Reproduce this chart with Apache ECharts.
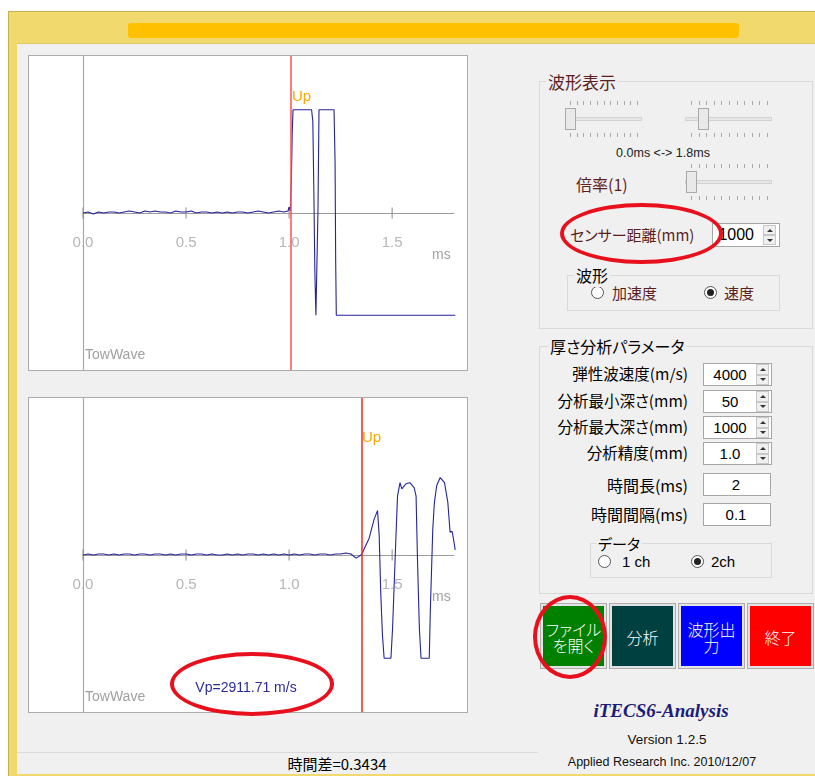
<!DOCTYPE html>
<html>
<head>
<meta charset="utf-8">
<script src="https://cdn.jsdelivr.net/npm/echarts@6/dist/echarts.min.js"></script>
<style>
  body { margin: 0; width: 815px; height: 776px; overflow: hidden; background: #fff; position: relative;
         font-family: 'Noto Sans CJK JP', sans-serif; font-feature-settings: 'palt'; }
  .wave { position: absolute; left: 28px; width: 438px; height: 314px; border: 1px solid #acacac; background: #fff; z-index: 2; }
  #ui div { box-sizing: border-box; }
</style>
</head>
<body>
<div id="ui"></div>
<div id="waveTop" class="wave" style="top:55px"></div>
<div id="waveBottom" class="wave" style="top:397px"></div>
<script>
// --- data ---
// 1ch 波形 (上)
const topTime = [0, 0.025, 0.05, 0.075, 0.1, 0.125, 0.15, 0.175, 0.2, 0.225, 0.25, 0.275, 0.3, 0.325, 0.35, 0.375, 0.4, 0.425, 0.45, 0.475,
  0.5, 0.525, 0.55, 0.575, 0.6, 0.625, 0.65, 0.675, 0.7, 0.725, 0.75, 0.775, 0.8, 0.825, 0.85, 0.875, 0.9, 0.925, 0.95, 0.975,
  0.995, 1.000, 1.006, 1.011, 1.015, 1.019, 1.109, 1.115, 1.120, 1.125, 1.130, 1.138, 1.140, 1.145, 1.218, 1.223, 1.226, 1.229, 1.806]
const topAmp = [0, 0.01, -0.01, 0.01, 0, 0.01, 0.01, 0, 0.01, 0.02, 0.01, 0, 0.02, 0.01, 0.02, 0.01, 0.01, 0, 0.02, 0.01,
  0.01, 0.02, 0, 0.01, 0.01, 0, 0.01, 0, 0.01, 0, 0.01, 0.01, 0, 0.01, 0.02, 0.01, 0, 0.01, 0.02, 0.01,
  0.02, 0.06, 0.02, 0.32, 0.77, 1.0, 1.0, 0.89, 0.22, -0.58, -0.99, -0.99, 0.02, 1.0, 1.0, 0.49, -0.48, -0.99, -0.99]
// 2ch 波形 (下)
const bottomTime = [0, 0.025, 0.05, 0.075, 0.1, 0.125, 0.15, 0.175, 0.2, 0.225, 0.25, 0.275, 0.3, 0.325, 0.35, 0.375, 0.4, 0.425, 0.45, 0.475,
  0.5, 0.525, 0.55, 0.575, 0.6, 0.625, 0.65, 0.675, 0.7, 0.725, 0.75, 0.775, 0.8, 0.825, 0.85, 0.875, 0.9, 0.925, 0.95, 0.975,
  1.0, 1.025, 1.05, 1.075, 1.1, 1.125, 1.15, 1.175, 1.2, 1.225, 1.25,
  1.275, 1.30, 1.325, 1.349, 1.356, 1.388, 1.413, 1.429, 1.437, 1.445, 1.453, 1.461, 1.494, 1.502, 1.518, 1.526, 1.538, 1.547, 1.567,
  1.586, 1.607, 1.616, 1.623, 1.632, 1.640, 1.680, 1.685, 1.697, 1.705, 1.716, 1.733, 1.754, 1.770, 1.781, 1.791, 1.797, 1.806]
const bottomAmp = [0, 0.01, 0, 0.01, 0.01, 0, 0.01, 0, 0.01, 0.01, 0, 0.01, 0.01, 0, 0.01, 0.01, 0, 0.01, 0, 0.01,
  0.01, 0, 0.01, 0.01, 0, 0.01, 0, 0, 0.01, 0, 0.01, 0, 0.01, 0.01, 0, 0.01, 0, 0.01, 0, 0.01,
  0, 0.01, 0, 0.01, 0.01, 0, 0.01, 0.01, 0, 0.01, 0.01,
  0.02, 0.01, -0.03, 0, 0.025, 0.16, 0.35, 0.43, 0.19, -0.39, -0.78, -1.0, -1.0, -0.71, 0.16, 0.57, 0.70, 0.64, 0.69,
  0.70, 0.65, 0.57, -0.06, -0.71, -1.0, -1.0, -0.55, 0.25, 0.51, 0.67, 0.75, 0.70, 0.51, 0.22, 0.23, 0.16, 0.05]
const tickValues = [0, 0.5, 1.0, 1.5]
const upTimeTop = 1.008
const upTimeBottom = 1.349
const vpText = 'Vp=2911.71 m/s'

// --- 波形チャート ---
const waveOption = (time, amp, upTime, upColor, graphics) => ({
  animation: false,
  grid: {left: 54, right: 13, top: 0, bottom: 0, containLabel: false, outerBoundsMode: 'none'},
  xAxis: {
    type: 'value', min: 0, max: 1.8, interval: 0.5,
    axisLine: {onZero: true, lineStyle: {color: '#9c9c9c', width: 1}},
    axisTick: {show: false},
    splitLine: {show: false},
    axisLabel: {show: false} // 目盛ラベルはゼロ線の下に散布系列のラベルで出す
  },
  yAxis: {
    type: 'value', min: -1.52, max: 1.52,
    axisLine: {show: true, onZero: false, lineStyle: {color: '#a8a8a8', width: 1.2}},
    axisTick: {show: false},
    axisLabel: {show: false},
    splitLine: {show: false}
  },
  series: [
    {
      type: 'line',
      data: time.map((t, i) => [t, amp[i]]),
      showSymbol: false,
      lineStyle: {color: '#24249c', width: 1.1},
      markLine: {
        silent: true, symbol: 'none', label: {show: false},
        lineStyle: {color: upColor, type: 'solid', width: 1.5},
        data: [{xAxis: upTime}]
      }
    },
    {
      // 横軸の目盛（軸をまたぐ短い縦線）とラベル
      type: 'scatter',
      data: tickValues.map(v => [v, 0]),
      symbol: 'rect', symbolSize: [1.3, 11],
      itemStyle: {color: '#8c8c8c'},
      silent: true,
      z: 1,
      label: {
        show: true, position: 'bottom', distance: 17,
        color: '#a4a4a4', fontSize: 15, fontFamily: 'Liberation Sans',
        formatter: (p) => p.value[0].toFixed(1)
      }
    }
  ],
  graphic: graphics
})

const txt = (s, x, y, fill, size, align) => ({
  type: 'text', x, y, silent: true,
  style: {text: s, fill, fontSize: size, fontFamily: 'Liberation Sans', align: align || 'left', verticalAlign: 'middle'}
})

const topChart = echarts.init(document.getElementById('waveTop'))
topChart.setOption(waveOption(topTime, topAmp, upTimeTop, '#ff5050', [
  txt('Up', 263, 41, '#ffa500', 15),
  txt('ms', 403, 199, '#a0a0a0', 14),
  txt('TowWave', 56, 299, '#a0a0a0', 14)
]))

const bottomChart = echarts.init(document.getElementById('waveBottom'))
bottomChart.setOption(waveOption(bottomTime, bottomAmp, upTimeBottom, '#ff2020', [
  txt('Up', 333, 40, '#ffa500', 15),
  txt('ms', 403, 199, '#a0a0a0', 14),
  txt('TowWave', 56, 299, '#a0a0a0', 14),
  txt(vpText, 217, 290, '#2a2aa0', 14, 'center')
]))

// --- 画面まわり ---
const ui = document.getElementById('ui')
const el = (css, html) => {
  const d = document.createElement('div')
  d.style.cssText = 'position:absolute;' + css
  if (html != null) d.innerHTML = html
  ui.appendChild(d)
  return d
}
const text = (s, x, cy, o = {}) => {
  const size = o.size || 15, h = size + 8
  let css = `top:${cy - h / 2}px;height:${h}px;line-height:${h}px;font-size:${size}px;color:${o.color || '#000'};white-space:nowrap;z-index:${o.z || 1};`
  if (o.align === 'right') css += `left:${x - 400}px;width:400px;text-align:right;`
  else if (o.align === 'center') css += `left:${x - 200}px;width:400px;text-align:center;`
  else css += `left:${x}px;`
  if (o.font) css += `font-family:${o.font};`
  if (o.extra) css += o.extra
  return el(css, s)
}
const rect = (x1, y1, x2, y2, css) => el(`left:${x1}px;top:${y1}px;width:${x2 - x1}px;height:${y2 - y1}px;${css || ''}`)
const groupBox = (x1, y1, x2, y2, title, tx, color, size) => {
  rect(x1, y1, x2, y2, 'border:1px solid #d9d9d9;')
  text(title, tx, y1, {size: size || 16, color: color || '#000', extra: 'background:#f0f0f0;padding:0 2px;'})
}
const spinArrows = (x, y1, y2) => {
  const h = (y2 - y1) / 2
  rect(x, y1 + 1, x + 13, y1 + h, 'background:#f0f0f0;border:1px solid #c8c8c8;')
  rect(x, y1 + h, x + 13, y2 - 1, 'background:#f0f0f0;border:1px solid #c8c8c8;')
  rect(x + 3.5, y1 + h / 2 - 1, x + 9.5, y1 + h / 2 + 2, 'width:0;height:0;border-left:3px solid transparent;border-right:3px solid transparent;border-bottom:3px solid #333;')
  rect(x + 3.5, y1 + h + h / 2 - 2, x + 9.5, y1 + h + h / 2 + 1, 'width:0;height:0;border-left:3px solid transparent;border-right:3px solid transparent;border-top:3px solid #333;')
}
const inputBox = (x1, y1, x2, y2, value, cx, spin) => {
  rect(x1, y1, x2, y2, 'background:#fff;border:1px solid #a6a6a6;')
  text(value, cx, (y1 + y2) / 2, {size: 15, align: 'center', font: 'Liberation Sans', z: 2})
  if (spin) spinArrows(x2 - 16, y1, y2)
}
const radio = (cx, cy, checked) => {
  rect(cx - 6.5, cy - 6.5, cx + 6.5, cy + 6.5, 'border:1px solid #555;border-radius:50%;background:#fff;')
  if (checked) rect(cx - 3.5, cy - 3.5, cx + 3.5, cy + 3.5, 'border-radius:50%;background:#222;')
}
const slider = (tx1, tx2, cy, thumbX, tickX1, tickX2, thumbH) => {
  rect(tx1, cy - 2, tx2, cy + 2, 'background:#e6e6e6;border:1px solid #d2d2d2;')
  for (let i = 0; i <= 10; i++) {
    const x = tickX1 + (tickX2 - tickX1) * i / 10
    rect(x, cy - thumbH / 2 - 7, x + 1, cy - thumbH / 2 - 3, 'background:#a8a8a8;')
    rect(x, cy + thumbH / 2 + 3, x + 1, cy + thumbH / 2 + 7, 'background:#a8a8a8;')
  }
  rect(thumbX, cy - thumbH / 2, thumbX + 11, cy + thumbH / 2, 'background:#e9e9e9;border:1px solid #a9a9a9;')
}
const button = (x1, y1, x2, y2, bg, lines, cy) => {
  rect(x1 - 3, y1 - 3, x2 + 3, y2 + 3, 'background:#e3e3e3;border:1px solid #adadad;')
  rect(x1, y1, x2, y2, `background:${bg};`)
  const lh = 16
  lines.forEach((s, i) => text(s, (x1 + x2) / 2, cy + (i - (lines.length - 1) / 2) * lh, {size: 16, color: '#fff', align: 'center', z: 2, extra: 'font-weight:300;'}))
}
const ellipse = (x1, y1, x2, y2) => rect(x1, y1, x2, y2, 'border:4px solid #e8101c;border-radius:50%;z-index:5;')

// ウィンドウ枠
rect(8, 11, 840, 790, 'background:#f1d96e;border-top:1px solid #c5ae55;border-left:1px solid #c5ae55;')
rect(128, 23, 739, 38, 'background:#ffc000;border-radius:3px;')
rect(17, 43, 840, 774, 'background:#f0f0f0;border-top:1px solid #dcc86c;')

// ステータス
rect(17, 752, 538, 753, 'background:#dadada;')
text('時間差=0.3434', 337, 763, {size: 15, align: 'center'})

// 波形表示
groupBox(539, 81, 813, 329, '波形表示', 546, '#5b1f1f', 17)
slider(566, 642, 119, 565, 570, 637, 22)
slider(685, 772, 119, 698, 691, 767, 22)
text('0.0ms &lt;-&gt; 1.8ms', 663, 153, {size: 12.5, align: 'center', font: 'Liberation Sans', color: '#222'})
text('倍率(1)', 576, 184, {size: 16, color: '#5b1f1f'})
slider(685, 772, 182, 686, 691, 767, 22)
text('センサー距離(mm)', 570, 234, {size: 15, color: '#5b1f1f'})
rect(712, 223, 780, 247, 'background:#fff;border:1px solid #a6a6a6;')
text('1000', 754, 235, {size: 16, align: 'right', font: 'Liberation Sans', z: 2, extra: 'clip-path:inset(0 0 0 359px);'})
spinArrows(763, 224, 246)
groupBox(567, 275, 780, 311, '波形', 574, '#000', 16)
radio(597, 292, false)
text('加速度', 612, 292, {size: 15, color: '#5b1f1f'})
radio(710, 292, true)
text('速度', 724, 292, {size: 15, color: '#5b1f1f'})

// 厚さ分析パラメータ
groupBox(539, 346, 813, 594, '厚さ分析パラメータ', 548, '#000', 16)
text('弾性波速度(m/s)', 688, 374, {size: 15.5, align: 'right'})
inputBox(703, 363, 772, 386, '4000', 730, true)
text('分析最小深さ(mm)', 688, 401, {size: 15.5, align: 'right'})
inputBox(703, 390, 772, 413, '50', 730, true)
text('分析最大深さ(mm)', 688, 427, {size: 15.5, align: 'right'})
inputBox(703, 416, 772, 439, '1000', 730, true)
text('分析精度(mm)', 688, 453, {size: 15.5, align: 'right'})
inputBox(703, 442, 772, 465, '1.0', 730, true)
text('時間長(ms)', 688, 485, {size: 16, align: 'right'})
inputBox(703, 473, 771, 496, '2', 736, false)
text('時間間隔(ms)', 688, 514, {size: 16, align: 'right'})
inputBox(703, 503, 771, 526, '0.1', 736, false)
groupBox(590, 543, 772, 578, 'データ', 596, '#000', 15)
radio(604, 561, false)
text('1 ch', 622, 561, {size: 15, font: 'Liberation Sans'})
radio(697, 561, true)
text('2ch', 711, 561, {size: 15, font: 'Liberation Sans'})

// ボタン
button(543, 606, 604, 666, '#008000', ['ファイル', 'を開く'], 637)
button(612, 606, 673, 666, '#004040', ['分析'], 637)
button(681, 606, 742, 666, '#0000ff', ['波形出', '力'], 637)
button(750, 606, 811, 666, '#ff0000', ['終了'], 637)

text('iTECS6-Analysis', 661, 710, {size: 19, align: 'center', color: '#1c1c7a', font: "'Liberation Serif'", extra: 'font-weight:bold;font-style:italic;'})
text('Version 1.2.5', 667, 740, {size: 13.5, align: 'center', font: 'Liberation Sans', color: '#111'})
text('Applied Research Inc. 2010/12/07', 662, 762, {size: 12.5, align: 'center', font: 'Liberation Sans', color: '#111'})

// 赤丸
ellipse(560, 203, 723, 264)
ellipse(533, 595, 607, 679)
ellipse(170, 652, 334, 716)
</script>
</body>
</html>
